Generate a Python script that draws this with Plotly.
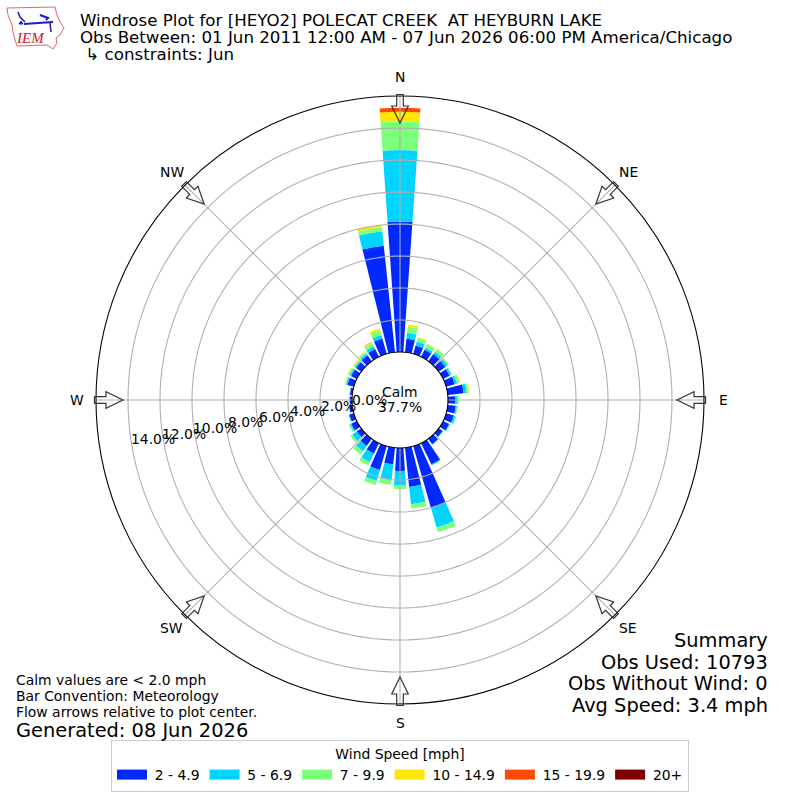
import math
import plotly.graph_objects as go

directions = list(range(0, 360, 10))
speed_labels = ['2 - 4.9', '5 - 6.9', '7 - 9.9', '10 - 14.9', '15 - 19.9', '20+']
colors = ['#0028ff', '#00d4ff', '#7cff79', '#ffe600', '#ff4800', '#800000']

# percent of obs per direction bin
s2_5 = [8.15, .85, .55, .50, .55, .50, .45, .56, 1.0, .44, .50, .50, .42, .30, .42, 1.48, 4.0, 2.46,
        1.44, 1.04, 1.55, .73, .55, .35, .40, .30, .20, .15, .15, .42, .40, .40, .45, .55, 1.0, 6.7]
s5_7 = [4.47, .37, .25, .15, .18, .18, .12, .16, .20, .16, .08, .10, .05, .03, .03, .06, 1.29, 1.09,
        .91, .96, .71, .59, .41, .35, .08, .04, .02, .01, .02, .10, .10, .10, .13, .20, .22, .90]
s7_10 = [1.8, .38, .23, .22, .20, .10, .06, .16, .10, .09, .07, .08, .05, .02, .01, 0, .31, .27,
         .21, .33, .27, .24, .25, .14, .10, .03, .01, 0, .01, .05, .12, .08, .12, .22, .30, .25]
s10_15 = [.60, .15, .07, .04, .05, .02, 0, .03, .05, 0, 0, 0, 0, 0, 0, 0, 0, 0,
          0, 0, 0, 0, 0, 0, 0, 0, 0, 0, 0, .02, .04, .05, .04, .06, .13, .15]
s15_20 = [.25, 0, 0, 0, 0, 0, 0, 0, 0, 0, 0, 0, 0, 0, 0, 0, 0, 0,
          0, 0, 0, 0, 0, 0, 0, 0, 0, 0, 0, 0, 0, 0, 0, .02, 0, 0]
s20_up = [0] * 36
speed_bins = [s2_5, s5_7, s7_10, s10_15, s15_20, s20_up]

radial_ticks = [0, 2, 4, 6, 8, 10, 12, 14]
rings = [2, 4, 6, 8, 10, 12, 14]
spokes = [0, 45, 90, 135, 180, 225, 270, 315]
compass = ['N', 'NE', 'E', 'SE', 'S', 'SW', 'W', 'NW']
font = 'DejaVu Sans'

fig = go.Figure()

for vals, lab, col in zip(speed_bins, speed_labels, colors):
    fig.add_trace(go.Barpolar(r=vals, theta=directions, width=8, name=lab, showlegend=False,
                              marker=dict(color=col, line=dict(width=0))))

# gridlines sit over the bars in the original, so draw them as traces
ring_theta = list(range(0, 361, 2))
for r in rings:
    fig.add_trace(go.Scatterpolar(r=[r] * len(ring_theta), theta=ring_theta, mode='lines', showlegend=False,
                                  hoverinfo='skip', line=dict(color='#b0b0b0', width=1.1)))
for a in spokes:
    fig.add_trace(go.Scatterpolar(r=[0, 16], theta=[a, a], mode='lines', showlegend=False,
                                  hoverinfo='skip', line=dict(color='#b0b0b0', width=1.1)))

# legend swatches, thin space keeps the text at the original offset
for lab, col in zip(speed_labels, colors):
    fig.add_trace(go.Scatterpolar(r=[None], theta=[None], mode='lines', name='\u2009' + lab,
                                  line=dict(color=col, width=10)))


def px(x, y):
    return x / 800, 1 - y / 800


def add_text(x, y, text, size=13.9, anchor='left', color='black', family=font, **kw):
    # annotations carry 2px of padding
    shift = {'left': -2, 'right': 2, 'center': 0}[anchor]
    ax, ay = px(x + shift, y)
    fig.add_annotation(x=ax, y=ay, xref='paper', yref='paper', text=text, showarrow=False, xanchor=anchor,
                       yanchor='middle', font=dict(family=family, size=size, color=color), **kw)


def poly(points, line='#333333', width=1.2, fill='rgba(0,0,0,0)', close=True):
    coords = [px(x, y) for x, y in points]
    path = 'M' + ' L'.join(f'{x:.5f},{y:.5f}' for x, y in coords) + (' Z' if close else '')
    fig.add_shape(type='path', path=path, xref='paper', yref='paper', layer='above',
                  line=dict(color=line, width=width), fillcolor=fill)


# flow arrows at the compass points
arrow = [(305.5, -3.3), (294, -3.3), (294, -8.3), (277, 0), (294, 8.3), (294, 3.3), (305.5, 3.3)]
for a, name in zip(spokes, compass):
    t = math.radians(a)
    pts = []
    for rad, side in arrow:
        pts.append((400 + rad * math.sin(t) + side * math.cos(t), 400 - rad * math.cos(t) + side * math.sin(t)))
    poly(pts)
    add_text(400 + 323 * math.sin(t), 400 - 323 * math.cos(t), name, anchor='center')

# radial tick labels step away from the centre on a slanted line
for i, tick in enumerate(radial_ticks):
    add_text(369 - 30.9 * i, 400 + 5.6 * i, f'{tick:.1f}%', anchor='center')

add_text(80, 20, 'Windrose Plot for [HEYO2] POLECAT CREEK  AT HEYBURN LAKE', size=16.67)
add_text(80, 37, 'Obs Between: 01 Jun 2011 12:00 AM - 07 Jun 2026 06:00 PM America/Chicago', size=16.67)
add_text(80, 55, ' ↳ constraints: Jun', size=16.67)

add_text(400, 392, 'Calm', anchor='center')
add_text(400, 407, '37.7%', anchor='center')

add_text(16, 680, 'Calm values are < 2.0 mph')
add_text(16, 696, 'Bar Convention: Meteorology')
add_text(16, 712, 'Flow arrows relative to plot center.')
add_text(16, 730, 'Generated: 08 Jun 2026', size=19.4)

add_text(768, 640, 'Summary', size=19.4, anchor='right')
add_text(768, 662, 'Obs Used: 10793', size=19.4, anchor='right')
add_text(768, 683, 'Obs Without Wind: 0', size=19.4, anchor='right')
add_text(768, 705, 'Avg Speed: 3.4 mph', size=19.4, anchor='right')

# IEM logo, rough outline of Iowa
poly([(7, 8), (55, 7), (57, 15), (60, 22), (64, 28), (60, 35), (56, 38), (57, 43), (53, 49), (47, 45),
      (17, 46), (15, 40), (13, 32), (12, 25), (8, 15)], line='#e06666', width=1)
poly([(24, 24), (53, 22)], line='#1a1acc', width=2, close=False)
poly([(18, 12), (20, 17), (25, 22)], line='#1a1acc', width=1.5, close=False)
poly([(40, 15), (48, 18), (46, 20)], line='#1a1acc', width=2, close=False)
poly([(50, 23), (51, 32)], line='#1a1acc', width=1.5, close=False)
poly([(19, 24), (23, 24), (21, 21)], line='#1a1acc', width=1, fill='#1a1acc')
add_text(30, 38, '<i>IEM</i>', size=15, anchor='center', color='#d42020', family='Liberation Serif, serif')

fig.update_layout(
    width=800, height=800, autosize=False, margin=dict(l=0, r=0, t=0, b=0),
    paper_bgcolor='white', plot_bgcolor='white',
    font=dict(family=font, size=13.9, color='black'),
    polar=dict(
        domain=dict(x=[96 / 800, 704 / 800], y=[96 / 800, 704 / 800]),
        hole=48 / 304, barmode='stack', bgcolor='white',
        radialaxis=dict(range=[0, 16], showgrid=False, showline=False, showticklabels=False, ticks=''),
        angularaxis=dict(rotation=90, direction='clockwise', tickmode='array', tickvals=spokes,
                         showticklabels=False, showgrid=False, showline=True, linecolor='black', linewidth=1.1,
                         ticks=''),
    ),
    legend=dict(orientation='h', x=0.5, xanchor='center', y=1 - 740 / 800, yanchor='top',
                title=dict(text='Wind Speed [mph]', side='top center', font=dict(family=font, size=13.9)),
                font=dict(family=font, size=13.9), bordercolor='#cccccc', borderwidth=1, bgcolor='white',
                itemwidth=30),
)

fig.write_html('out.html', config=dict(displayModeBar=False),
               post_script="document.body.style.margin='0';document.documentElement.style.overflow='hidden';")
